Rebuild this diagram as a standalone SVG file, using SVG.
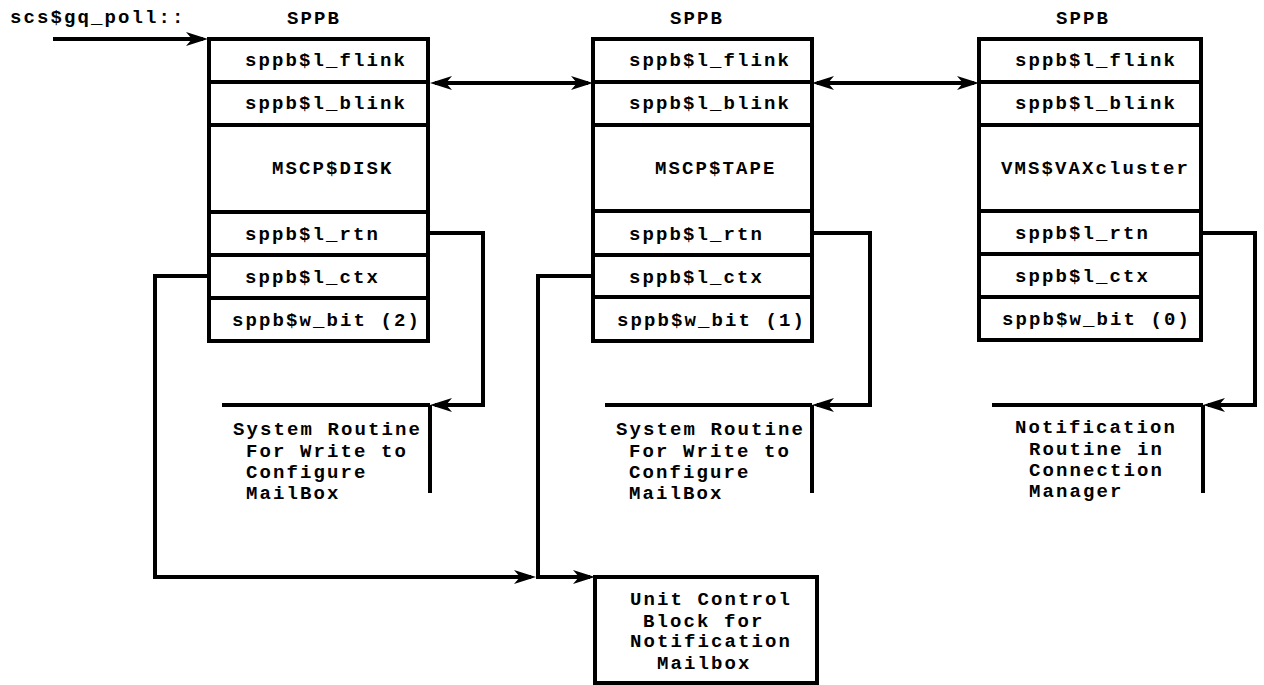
<svg xmlns="http://www.w3.org/2000/svg" width="1264" height="685" viewBox="0 0 1264 685">
  <style>
    .bg { fill: #ffffff; }
    .box { fill: #ffffff; stroke: #000; stroke-width: 4; }
    .div { stroke: #000; stroke-width: 4; fill: none; }
    .wire { stroke: #000; stroke-width: 4; fill: none; }
    .t { font-family: "Liberation Mono", "Courier New", monospace; font-weight: bold; font-size: 19px; letter-spacing: 2.1px; fill: #000; }
  </style>
  <defs>
    <marker id="arr" markerUnits="userSpaceOnUse" markerWidth="30" markerHeight="20" refX="0" refY="0" orient="auto-start-reverse" overflow="visible">
      <path d="M5,0 L-17,-7 L-11,0 L-17,7 Z" fill="#000"/>
    </marker>
  </defs>

  <rect class="bg" x="0" y="0" width="1264" height="685"/>

  <!-- entry label -->
  <text class="t" x="10" y="23">scs$gq_poll::</text>

  <!-- SPPB block for MSCP$DISK -->
  <g id="sppb-disk">
    <text class="t" x="287" y="24">SPPB</text>
    <rect class="box" x="209" y="39" width="219" height="302"/>
    <path class="div" d="M209,82 H428 M209,125 H428 M209,212 H428 M209,255 H428 M209,298 H428"/>
    <text class="t" x="245" y="66">sppb$l_flink</text>
    <text class="t" x="245" y="109">sppb$l_blink</text>
    <text class="t" x="272" y="174">MSCP$DISK</text>
    <text class="t" x="245" y="240">sppb$l_rtn</text>
    <text class="t" x="245" y="283">sppb$l_ctx</text>
    <text class="t" x="232" y="326">sppb$w_bit (2)</text>
  </g>

  <!-- SPPB block for MSCP$TAPE -->
  <g id="sppb-tape">
    <text class="t" x="670" y="24">SPPB</text>
    <rect class="box" x="593" y="39" width="219" height="302"/>
    <path class="div" d="M593,82 H812 M593,125 H812 M593,211 H812 M593,255 H812 M593,297 H812"/>
    <text class="t" x="629" y="66">sppb$l_flink</text>
    <text class="t" x="629" y="109">sppb$l_blink</text>
    <text class="t" x="655" y="174">MSCP$TAPE</text>
    <text class="t" x="629" y="240">sppb$l_rtn</text>
    <text class="t" x="629" y="283">sppb$l_ctx</text>
    <text class="t" x="617" y="326">sppb$w_bit (1)</text>
  </g>

  <!-- SPPB block for VMS$VAXcluster -->
  <g id="sppb-cluster">
    <text class="t" x="1056" y="24">SPPB</text>
    <rect class="box" x="979" y="39" width="222" height="301"/>
    <path class="div" d="M979,82 H1201 M979,125 H1201 M979,211 H1201 M979,254 H1201 M979,297 H1201"/>
    <text class="t" x="1015" y="66">sppb$l_flink</text>
    <text class="t" x="1015" y="109">sppb$l_blink</text>
    <text class="t" x="1001" y="174">VMS$VAXcluster</text>
    <text class="t" x="1015" y="239">sppb$l_rtn</text>
    <text class="t" x="1015" y="282">sppb$l_ctx</text>
    <text class="t" x="1002" y="325">sppb$w_bit (0)</text>
  </g>

  <!-- routine targets -->
  <g id="routine-disk">
    <path class="div" d="M222,405 H430 M430,405 V493"/>
    <text class="t" x="233" y="435">System Routine</text>
    <text class="t" x="246" y="457">For Write to</text>
    <text class="t" x="246" y="478">Configure</text>
    <text class="t" x="246" y="499">MailBox</text>
  </g>

  <g id="routine-tape">
    <path class="div" d="M605,405 H812 M812,405 V493"/>
    <text class="t" x="616" y="435">System Routine</text>
    <text class="t" x="629" y="457">For Write to</text>
    <text class="t" x="629" y="478">Configure</text>
    <text class="t" x="629" y="499">MailBox</text>
  </g>

  <g id="routine-cluster">
    <path class="div" d="M992,405 H1203 M1203,405 V493"/>
    <text class="t" x="1015" y="433">Notification</text>
    <text class="t" x="1029" y="455">Routine in</text>
    <text class="t" x="1029" y="476">Connection</text>
    <text class="t" x="1029" y="497">Manager</text>
  </g>

  <!-- unit control block -->
  <g id="ucb">
    <rect class="box" x="595" y="577" width="222" height="106"/>
    <text class="t" x="630" y="605">Unit Control</text>
    <text class="t" x="643" y="627">Block for</text>
    <text class="t" x="630" y="647">Notification</text>
    <text class="t" x="657" y="669">Mailbox</text>
  </g>

  <!-- connectors -->
  <g id="connectors">
    <path class="wire" d="M53,39 H203" marker-end="url(#arr)"/>
    <path class="wire" d="M435,83 H588" marker-start="url(#arr)" marker-end="url(#arr)"/>
    <path class="wire" d="M817,83 H974" marker-start="url(#arr)" marker-end="url(#arr)"/>
    <path class="wire" d="M430,233 H483 V405 H435" marker-end="url(#arr)"/>
    <path class="wire" d="M812,233 H870 V405 H817" marker-end="url(#arr)"/>
    <path class="wire" d="M1201,233 H1255 V405 H1208" marker-end="url(#arr)"/>
    <path class="wire" d="M209,276 H155 V577 H531" marker-end="url(#arr)"/>
    <path class="wire" d="M593,276 H538 V577 H590" marker-end="url(#arr)"/>
  </g>
</svg>
